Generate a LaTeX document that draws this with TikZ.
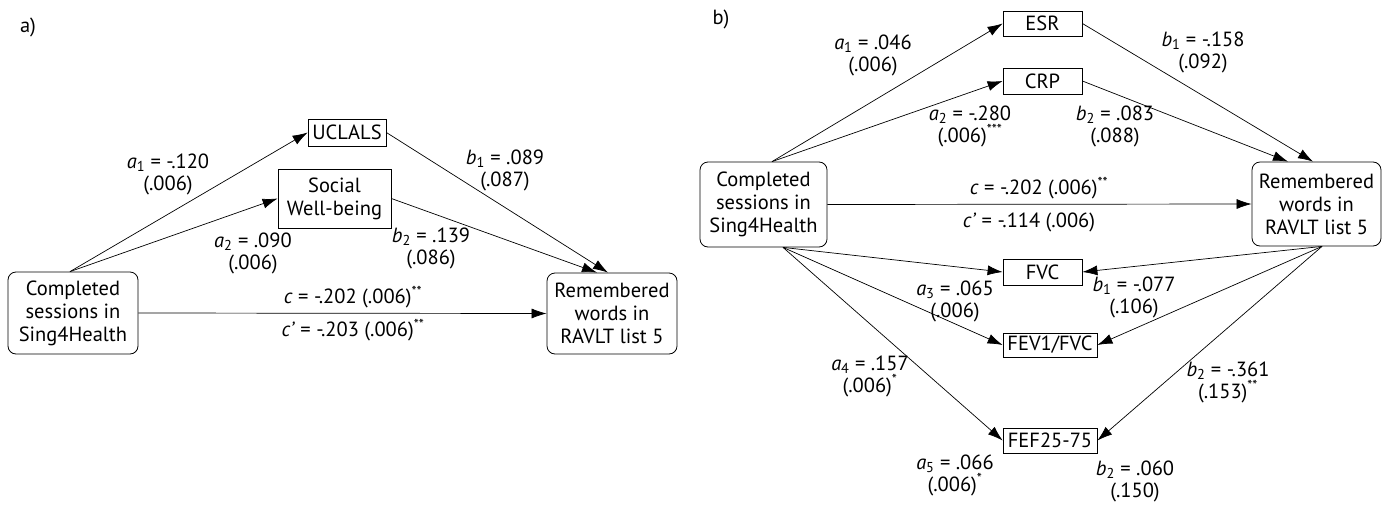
\documentclass[tikz,border=0pt]{standalone}
\usepackage{fontspec}
\setmainfont{PT Sans}
\usetikzlibrary{arrows.meta}
\newcommand{\va}[1]{\textit{a}\textsubscript{#1}}
\newcommand{\vb}[1]{\textit{b}\textsubscript{#1}}
\newcommand{\sig}[1]{\textsuperscript{#1}}
\begin{document}
\begin{tikzpicture}[x=1pt,y=-1pt,
  box/.style={draw, line width=0.8pt, inner sep=0pt, align=center, font=\fontsize{20.5}{23}\selectfont},
  rbox/.style={box, rounded corners=8pt},
  lab/.style={align=center, inner sep=0pt, font=\fontsize{20.5}{22}\selectfont},
  arr/.style={-{Latex[length=15pt,width=10pt]}, line width=0.7pt}]
\fill[white] (0,0) rectangle (1388,506);
\useasboundingbox (0,0) rectangle (1388,506);

% ---------- panel a ----------
\node[lab] (pa) at (28,27) {a)};
\node[rbox, minimum width=130pt, minimum height=82pt] (compa) at (73,313) {Completed\\sessions in\\Sing4Health};
\node[box, minimum width=78pt, minimum height=27pt] (ucla) at (347,132.5) {UCLALS};
\node[box, minimum width=113pt, minimum height=59pt] (swb) at (334.5,198.5) {Social\\Well-being};
\node[rbox, minimum width=130pt, minimum height=81pt] (rema) at (612,313.5) {Remembered\\words in\\RAVLT list 5};

\draw[arr] ([xshift=-3pt]compa.north) -- (ucla.west);
\draw[arr] ([xshift=-3pt]compa.north) -- (swb.west);
\draw[arr] (ucla.east) -- ([xshift=-4pt]rema.north);
\draw[arr] (swb.east) -- ([xshift=-15pt]rema.north);
\draw[arr] (compa.east) -- (rema.west);

\node[lab] (la1) at (168,174) {\va{1} = -.120\\(.006)};
\node[lab] (la2) at (253,253) {\va{2} = .090\\(.006)};
\node[lab] (lb1) at (505,170) {\vb{1} = .089\\(.087)};
\node[lab] (lb2) at (431,248) {\vb{2} = .139\\(.086)};
\node[lab] (lc) at (353,297) {\textit{c} = -.202 (.006)\sig{**}};
\node[lab] (lcp) at (353,330) {\textit{c’} = -.203 (.006)\sig{**}};

% ---------- panel b ----------
\node[lab] (pb) at (721,19) {b)};
\node[rbox, minimum width=127pt, minimum height=85pt] (compb) at (763.5,204.5) {Completed\\sessions in\\Sing4Health};
\node[box, minimum width=79pt, minimum height=25pt] (esr) at (1042.5,23.5) {ESR};
\node[box, minimum width=79pt, minimum height=26pt] (crp) at (1042.5,81) {CRP};
\node[rbox, minimum width=129pt, minimum height=84pt] (remb) at (1316.5,204) {Remembered\\words in\\RAVLT list 5};
\node[box, minimum width=79pt, minimum height=26pt] (fvc) at (1042.5,272) {FVC};
\node[box, minimum width=94pt, minimum height=24pt] (fev) at (1050,345) {FEV1/FVC};
\node[box, minimum width=94pt, minimum height=25pt] (fef) at (1050,440.5) {FEF25-75};

\draw[arr] ([xshift=8.5pt]compb.north) -- (esr.west);
\draw[arr] ([xshift=8.5pt]compb.north) -- (crp.west);
\draw[arr] (esr.east) -- ([xshift=-3.5pt]remb.north);
\draw[arr] (crp.east) -- ([xshift=-28.5pt]remb.north);
\draw[arr] (compb.east) -- (remb.west);
\draw[arr] ([xshift=19.5pt]compb.south) -- (fvc.west);
\draw[arr] ([xshift=19.5pt]compb.south) -- (fev.west);
\draw[arr] ([xshift=19.5pt]compb.south) -- (fef.west);
\draw[arr] ([xshift=5.5pt]remb.south) -- (fvc.east);
\draw[arr] ([xshift=5.5pt]remb.south) -- (fev.east);
\draw[arr] ([xshift=5.5pt]remb.south) -- (fef.east);

\node[lab] (ba1) at (873,55) {\va{1} = .046\\(.006)};
\node[lab] (ba2) at (970,126) {\va{2} = -.280\\(.006)\sig{***}};
\node[lab] (bb1) at (1203,52) {\vb{1} = -.158\\(.092)};
\node[lab] (bb2) at (1115,126) {\vb{2} = .083\\(.088)};
\node[lab] (bc) at (1039,188) {\textit{c} = -.202 (.006)\sig{**}};
\node[lab] (bcp) at (1029,222) {\textit{c’} = -.114 (.006)};
\node[lab] (bb1f) at (1134,297) {\vb{1} = -.077\\(.106)};
\node[lab] (ba3) at (955,301) {\va{3} = .065\\(.006)};
\node[lab] (ba4) at (870,376) {\va{4} = .157\\(.006)\sig{*}};
\node[lab] (bb2f) at (1228,382) {\vb{2} = -.361\\(.153)\sig{**}};
\node[lab] (ba5) at (955,475) {\va{5} = .066\\(.006)\sig{*}};
\node[lab] (bb2g) at (1135,481) {\vb{2} = .060\\(.150)};
\end{tikzpicture}
\end{document}
